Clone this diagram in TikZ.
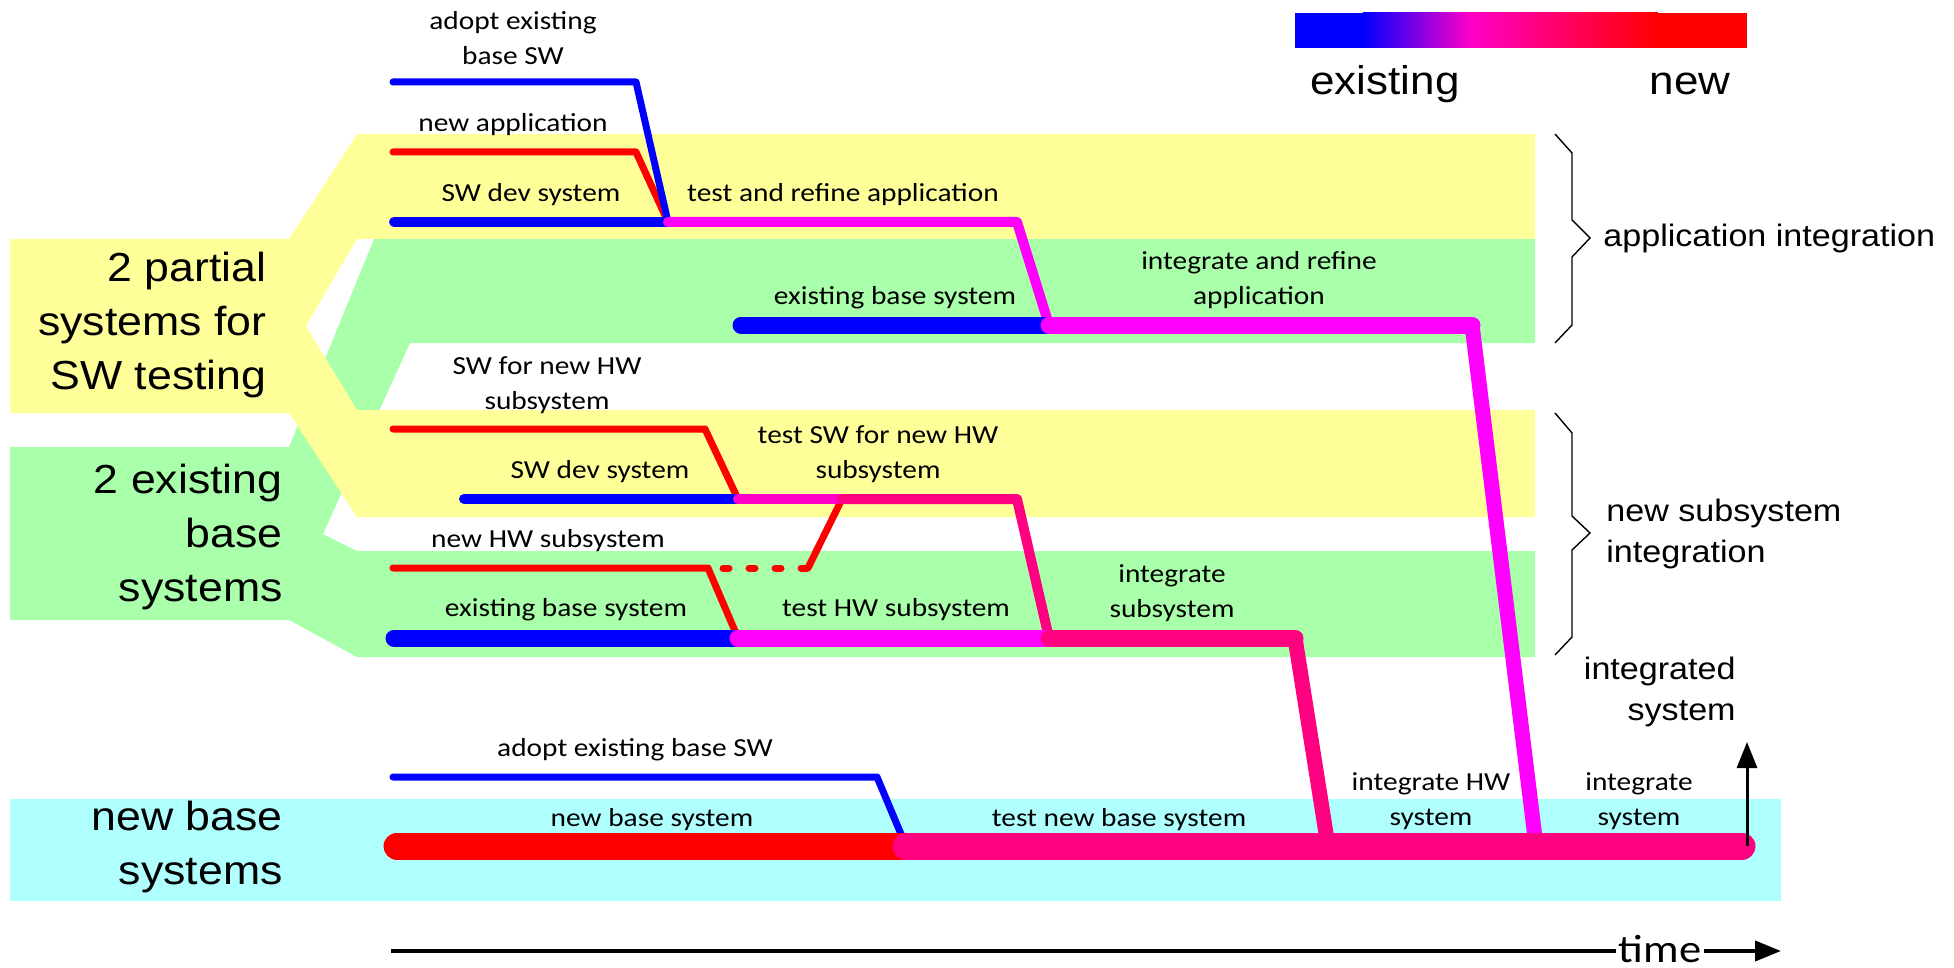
\documentclass[tikz,border=0pt]{standalone}
\usepackage{fontspec}
\setmainfont{Carlito}[FakeStretch=1.13]
\newfontfamily\headfont{Liberation Sans}[FakeStretch=1.1]
\usepackage{tikz}
\usetikzlibrary{arrows.meta}
\definecolor{bandyellow}{RGB}{255,255,153}
\definecolor{bandgreen}{RGB}{170,255,170}
\definecolor{bandcyan}{RGB}{175,255,255}
\definecolor{oldblue}{RGB}{0,0,255}
\definecolor{newred}{RGB}{255,0,0}
\definecolor{mixmag}{RGB}{255,0,255}
\definecolor{mixrose}{RGB}{255,0,200}
\definecolor{mixpink}{RGB}{255,0,128}
\tikzset{%
  lbl/.style       = {font=\fontsize{13}{17.5}\selectfont, align=center, inner sep=0pt},
  grouplbl/.style  = {font=\headfont\fontsize{20.3}{27}\selectfont, align=right,
    inner sep=0pt, anchor=east},
  sidelbl/.style   = {font=\headfont\fontsize{15.5}{20.5}\selectfont, inner sep=0pt},
  keylbl/.style    = {font=\headfont\fontsize{20}{24}\selectfont, inner sep=0pt, anchor=base},
  thinline/.style  = {line width=3.5pt, line cap=round, line join=round}, % 7px
  midline/.style   = {line width=5pt, line cap=round, line join=round},
  fatline/.style   = {line width=8.5pt, line cap=round, line join=round},
  dropline/.style  = {line width=7.5pt, line cap=round, line join=round},
  trunkline/.style = {line width=13.5pt, line cap=round, line join=round},
  grpbrace/.style  = {line width=0.7pt, line join=miter}
}
\begin{document}
\begin{tikzpicture}[x=0.5pt, y=-0.5pt, >={Triangle[length=13pt, width=10pt]}]
  \useasboundingbox (0,0) rectangle (1954,968);

  % bands
  \fill[bandcyan] (10,799) rectangle (1781,901);
  \fill[bandgreen] (10,447) -- (289,447) -- (374,239) -- (1535,239) -- (1535,343)
    -- (410,343) -- (323,534) -- (357,551) -- (1535,551) -- (1535,657)
    -- (357,657) -- (289,620) -- (10,620) -- cycle;
  \fill[bandyellow] (10,239) -- (289,239) -- (357,134) -- (1535,134) -- (1535,239)
    -- (357,239) -- (306,326) -- (357,410) -- (1535,410) -- (1535,517)
    -- (357,517) -- (289,413) -- (10,413) -- cycle;

  % legend
  \fill[oldblue] (1295,13) rectangle (1364,48);
  \shade[left color=oldblue, right color=mixrose] (1363,13) rectangle (1471,48);
  \shade[left color=mixrose, right color=newred] (1470,13) rectangle (1658,48);
  \fill[newred] (1657,13) rectangle (1747,48);
  \draw node at (1385,95) [keylbl] (keyold) {existing};
  \draw node at (1690,95) [keylbl] (keynew) {new};

  % group labels
  \draw node at (267,325) [grouplbl] (partial) {2 partial\\systems for\\SW testing};
  \draw node at (283,537) [grouplbl] (existing) {2 existing\\base\\systems};
  \draw node at (283,847) [grouplbl] (newsys) {new base\\systems};

  % application integration
  \coordinate (aswa) at (393,82);
  \coordinate (aswak) at (636,82);
  \coordinate (napp) at (393,152);
  \coordinate (nappk) at (636,152);
  \coordinate (appjoin) at (668,222);
  \coordinate (dev1) at (394,222);
  \coordinate (appk1) at (1017,222);
  \coordinate (appjoin2) at (1049,325);
  \coordinate (ex1) at (741,325);
  \coordinate (appk2) at (1472,325);
  \coordinate (append) at (1536,846);

  \draw node at (513,38) [lbl] (adopta) {adopt existing\\base SW};
  \draw node at (513,125) [lbl] (newapp) {new application};
  \draw node at (531,195) [lbl] (swdev1) {SW dev system};
  \draw node at (843,195) [lbl] (testapp) {test and refine application};
  \draw node at (895,298) [lbl] (exbase1) {existing base system};
  \draw node at (1259,280) [lbl] (intapp) {integrate and refine\\application};

  \draw[thinline, newred] (napp) -- (nappk) -- (appjoin);
  \draw[thinline, oldblue] (aswa) -- (aswak) -- (appjoin);
  \draw[midline, oldblue] (dev1) -- (appjoin);
  \draw[midline, mixmag] (appjoin) -- (appk1) -- (appjoin2);
  \draw[fatline, oldblue] (ex1) -- (appjoin2);
  \draw[fatline, mixmag] (appjoin2) -- (appk2);
  \draw[dropline, mixmag] (appk2) -- (append);

  % new subsystem integration
  \coordinate (swhw) at (393,429);
  \coordinate (swhwk) at (705,429);
  \coordinate (swjoin) at (738,499);
  \coordinate (dev2) at (464,499);
  \coordinate (hwtop) at (842,499);
  \coordinate (subk1) at (1017,499);
  \coordinate (subjoin) at (1049,638);
  \coordinate (hw) at (393,568);
  \coordinate (hwk) at (708,568);
  \coordinate (hwdot) at (808,568);
  \coordinate (hwjoin) at (738,638);
  \coordinate (ex2) at (394,638);
  \coordinate (subk2) at (1295,638);
  \coordinate (subend) at (1328,846);

  \draw node at (547,385) [lbl] (swnewhw) {SW for new HW\\subsystem};
  \draw node at (600,472) [lbl] (swdev2) {SW dev system};
  \draw node at (878,454) [lbl] (testsw) {test SW for new HW\\subsystem};
  \draw node at (548,541) [lbl] (newhw) {new HW subsystem};
  \draw node at (566,610) [lbl] (exbase2) {existing base system};
  \draw node at (896,610) [lbl] (testhw) {test HW subsystem};
  \draw node at (1172,593) [lbl] (intsub) {integrate\\subsystem};

  \draw[thinline, newred] (swhw) -- (swhwk) -- (swjoin);
  \draw[midline, oldblue] (dev2) -- (swjoin);
  \draw[thinline, newred] (hw) -- (hwk) -- (hwjoin);
  \draw[thinline, newred, dash pattern=on 3pt off 10pt, dash phase=5.5pt] (hwk) -- (hwdot);
  \draw[thinline, newred] (hwdot) -- (hwtop);
  \draw[midline, mixrose] (swjoin) -- (hwtop);
  \draw[midline, mixpink] (hwtop) -- (subk1) -- (subjoin);
  \draw[fatline, oldblue] (ex2) -- (hwjoin);
  \draw[fatline, mixmag] (hwjoin) -- (subjoin);
  \draw[fatline, mixpink] (subjoin) -- (subk2);
  \draw[dropline, mixpink] (subk2) -- (subend);

  % new base systems
  \coordinate (aswb) at (393,777);
  \coordinate (aswbk) at (877,777);
  \coordinate (basejoin) at (906,846);
  \coordinate (nbs) at (397,846);
  \coordinate (nbe) at (1742,846);
  \coordinate (nbup) at (1747,846);
  \coordinate (nbtip) at (1747,742);

  \draw node at (635,750) [lbl] (adoptb) {adopt existing base SW};
  \draw node at (652,820) [lbl] (newbase) {new base system};
  \draw node at (1119,820) [lbl] (testbase) {test new base system};
  \draw node at (1431,801) [lbl] (inthw) {integrate HW\\system};
  \draw node at (1639,801) [lbl] (intsys) {integrate\\system};

  \draw[thinline, oldblue] (aswb) -- (aswbk) -- (basejoin);
  \draw[trunkline, newred] (nbs) -- (basejoin);
  \draw[trunkline, mixpink] (basejoin) -- (nbe);
  \draw[->, line width=1.5pt] (nbup) -- (nbtip);

  % braces and side labels
  \draw[grpbrace] (1555,134) -- (1572,153) -- (1572,220) -- (1590,238) -- (1572,257)
    -- (1572,325) -- (1555,343);
  \draw[grpbrace] (1555,413) -- (1572,433) -- (1572,516) -- (1590,533) -- (1572,550)
    -- (1572,637) -- (1555,655);
  \draw node at (1603,238) [sidelbl, anchor=west] (appint) {application integration};
  \draw node at (1606,534) [sidelbl, anchor=west, align=left] (subint) {new subsystem\\integration};
  \draw node at (1736,692) [sidelbl, anchor=east, align=right] (integ) {integrated\\system};

  % time axis
  \coordinate (tstart) at (391,951);
  \coordinate (tend) at (1781,951);
  \draw node at (1660,949) [font=\fontsize{19.7}{20}\selectfont, inner sep=1pt] (time) {time};
  \draw[line width=2pt] (tstart) -- (tstart -| time.west);
  \draw[->, line width=2pt] (time.east |- tstart) -- (tend);

\end{tikzpicture}
\end{document}
